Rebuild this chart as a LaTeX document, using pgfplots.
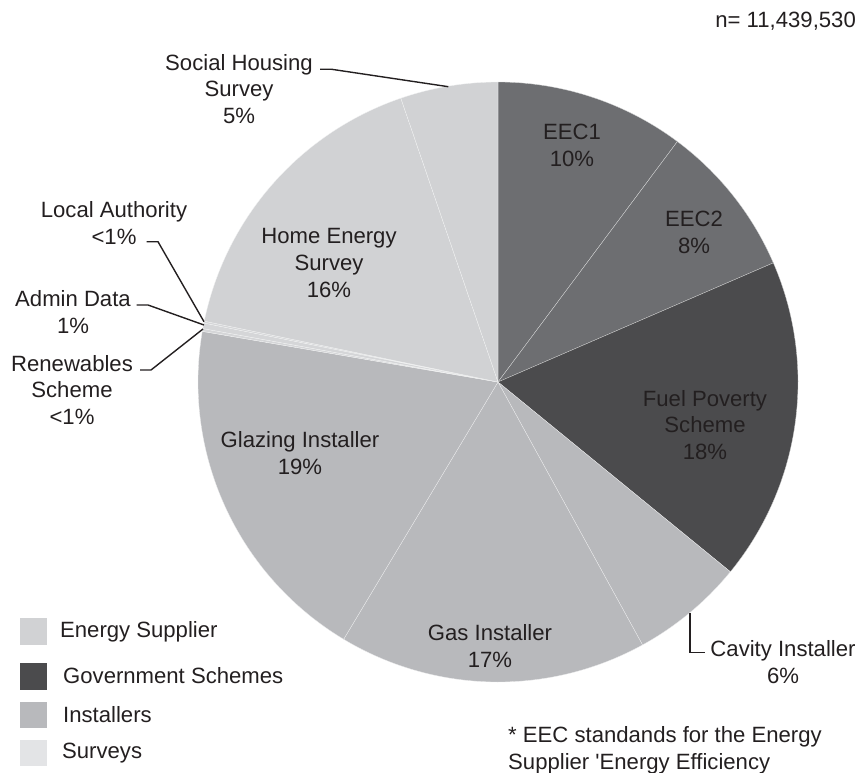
\documentclass[border=0pt]{standalone}
\usepackage{pgfplots}
\pgfplotsset{compat=1.18}
\usepackage{fontspec}
\setmainfont{Liberation Sans}
\definecolor{txt}{HTML}{231F20}
\definecolor{eec}{HTML}{6D6E71}
\definecolor{gov}{HTML}{4B4B4D}
\definecolor{inst}{HTML}{B8B9BC}
\definecolor{supp}{HTML}{D1D2D4}
\definecolor{surv}{HTML}{E3E4E6}
\definecolor{sliv}{HTML}{D5D6D8}
\tikzset{lbl/.style={font=\fontsize{22.2}{27}\selectfont, text=txt, inner sep=0pt, align=center}}
% slice: colour, cumulative percent at start, cumulative percent at end
\newcommand\slice[3]{%
  \addplot[fill=#1, draw=white!75!#1, line width=0.3pt, domain={90-3.6*#3}:{90-3.6*#2}, samples=90, variable=\t]
    ({498+300*cos(\t)},{382-300*sin(\t)}) -- (axis cs:498,382) -- cycle;}
\begin{document}
\begin{tikzpicture}
\useasboundingbox (0,0) rectangle (862bp,773bp);
\begin{axis}[at={(0,0)}, anchor=south west, scale only axis,
  width=862bp, height=773bp, xmin=0, xmax=862, ymin=0, ymax=773,
  y dir=reverse, hide axis, clip=false]
% cumulative percentages: EEC1 10.2, EEC2 8.3, Fuel Poverty 17.4, Cavity 6.1, Gas 16.6,
% Glazing 19.1, Renewables 0.15, Admin 0.3, Local Authority 0.1, Home Energy 16.5, Social Housing 5.25
\slice{eec}{0}{10.2}
\slice{eec}{10.2}{18.5}
\slice{gov}{18.5}{35.9}
\slice{inst}{35.9}{42}
\slice{inst}{42}{58.6}
\slice{inst}{58.6}{77.7}
\slice{sliv}{77.7}{77.85}
\slice{sliv}{77.85}{78.15}
\slice{sliv}{78.15}{78.25}
\slice{supp}{78.25}{94.75}
\slice{supp}{94.75}{100}
% leader lines
\addplot[txt, line width=1.4pt] coordinates {(320,69.3) (331.7,69.3) (448.3,86.7)};
\addplot[txt, line width=1.4pt] coordinates {(146.7,241.7) (158,241.7) (204,321.7)};
\addplot[txt, line width=1.4pt] coordinates {(136.7,305) (148,305) (204,325)};
\addplot[txt, line width=1.4pt] coordinates {(140,370) (151,370) (203,329)};
\addplot[txt, line width=1.4pt] coordinates {(690,613.3) (690,652.3) (705,652.3)};
% labels
\node[lbl, anchor=east] at (axis cs:856,21) {n= 11,439,530};
\node[lbl] at (axis cs:239,89) {Social Housing\\Survey\\5\%};
\node[lbl] at (axis cs:572,145) {EEC1\\10\%};
\node[lbl] at (axis cs:694,232) {EEC2\\8\%};
\node[lbl] at (axis cs:705,425) {Fuel Poverty\\Scheme\\18\%};
\node[lbl] at (axis cs:783,662) {Cavity Installer\\6\%};
\node[lbl] at (axis cs:490,646) {Gas Installer\\17\%};
\node[lbl] at (axis cs:300,453) {Glazing Installer\\19\%};
\node[lbl] at (axis cs:329,263) {Home Energy\\Survey\\16\%};
\node[lbl] at (axis cs:114,223) {Local Authority\\<1\%};
\node[lbl] at (axis cs:73,312) {Admin Data\\1\%};
\node[lbl] at (axis cs:72,390) {Renewables\\Scheme\\<1\%};
\node[lbl, align=left, anchor=west] at (axis cs:508,750) {* EEC standands for the Energy\\Supplier \textquotesingle Energy Efficiency};
% legend
\fill[supp] (axis cs:20,618) rectangle (axis cs:46.7,645);
\fill[gov] (axis cs:20,663) rectangle (axis cs:46.7,690);
\fill[inst] (axis cs:20,701.7) rectangle (axis cs:46.7,728);
\fill[surv] (axis cs:20,740) rectangle (axis cs:46.7,766);
\node[lbl, anchor=west] at (axis cs:60,632) {Energy Supplier};
\node[lbl, anchor=west] at (axis cs:63,676) {Government Schemes};
\node[lbl, anchor=west] at (axis cs:63,715) {Installers};
\node[lbl, anchor=west] at (axis cs:62,753) {Surveys};
\end{axis}
\end{tikzpicture}
\end{document}
